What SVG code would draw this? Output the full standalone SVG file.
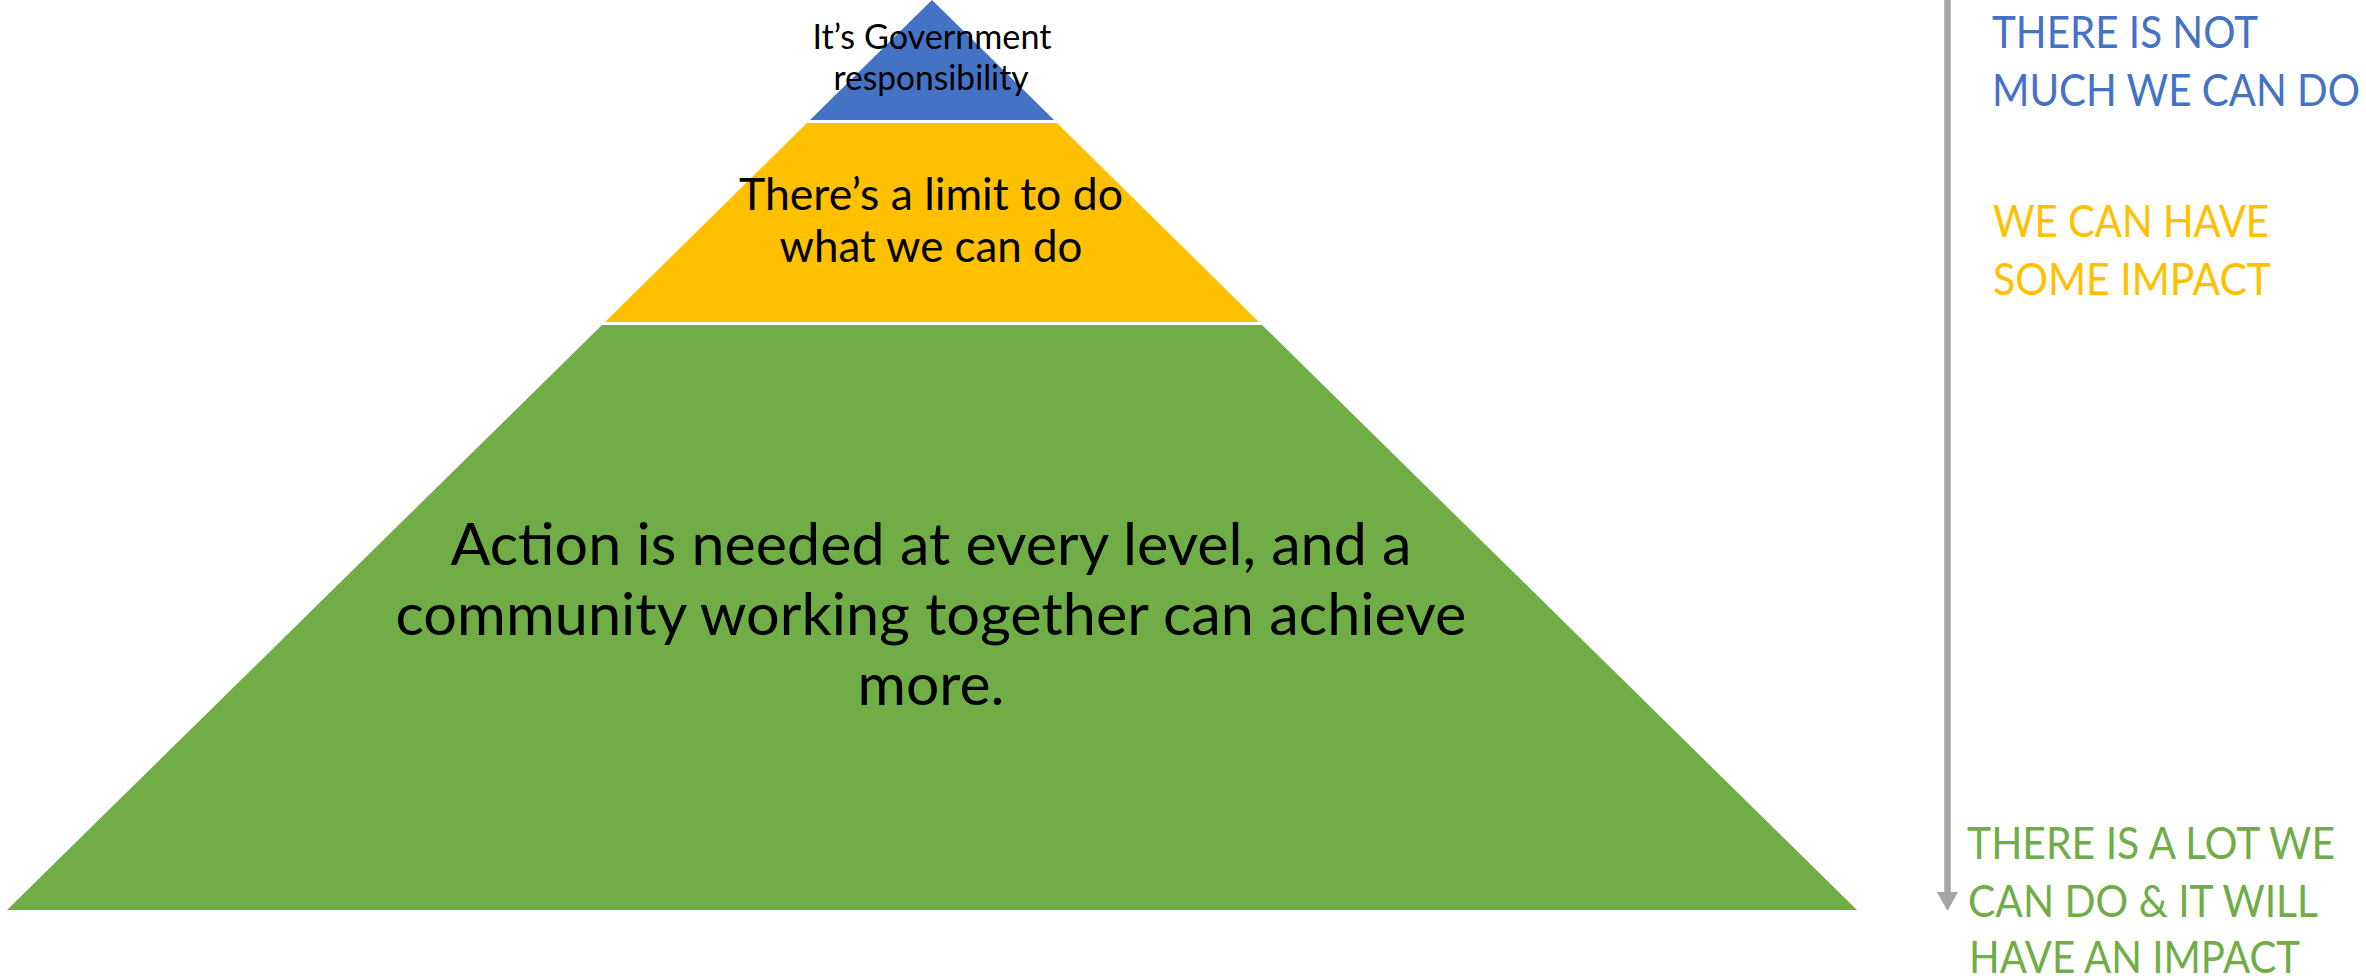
<svg xmlns="http://www.w3.org/2000/svg" width="2366" height="980" viewBox="0 0 2366 980">
<style>
.t{font-family:Lato,"Open Sans","Liberation Sans",sans-serif;text-anchor:middle;fill:#000}
.r{font-family:Lato,"Open Sans","Liberation Sans",sans-serif;font-size:45px}
</style>
<rect width="2366" height="980" fill="#fff"/>
<g id="level-top">
<polygon points="932,0 810,120 1054,120" fill="#4472C4"/>
<text class="t" font-size="34" x="932" y="49" textLength="239" lengthAdjust="spacingAndGlyphs">It’s Government</text>
<text class="t" font-size="34" x="931" y="90" textLength="195" lengthAdjust="spacingAndGlyphs">responsibility</text>
</g>
<g id="level-middle">
<polygon points="807,123 1057,123 1259,322 605,322" fill="#FFC000"/>
<text class="t" font-size="44" x="931" y="210" textLength="384" lengthAdjust="spacingAndGlyphs">There’s a limit to do</text>
<text class="t" font-size="44" x="931" y="262" textLength="303" lengthAdjust="spacingAndGlyphs">what we can do</text>
</g>
<g id="level-bottom">
<polygon points="602,325 1262,325 1857,910 7,910" fill="#70AD47"/>
<text class="t" font-size="59" x="931" y="565" textLength="961" lengthAdjust="spacingAndGlyphs">Action is needed at every level, and a</text>
<text class="t" font-size="59" x="931" y="635" textLength="1071" lengthAdjust="spacingAndGlyphs">community working together can achieve</text>
<text class="t" font-size="59" x="931" y="705" textLength="147" lengthAdjust="spacingAndGlyphs">more.</text>
</g>
<g id="connectors">
<line x1="1947.5" y1="0" x2="1947.5" y2="894" stroke="#A5A5A5" stroke-width="6.5"/>
<polygon points="1937,892 1958,892 1947.5,911" fill="#A5A5A5"/>
</g>
<g id="label-top">
<text class="r" fill="#4472C4" x="1992" y="48" textLength="266" lengthAdjust="spacingAndGlyphs">THERE IS NOT</text>
<text class="r" fill="#4472C4" x="1992" y="106" textLength="368" lengthAdjust="spacingAndGlyphs">MUCH WE CAN DO</text>
</g>
<g id="label-middle">
<text class="r" fill="#FFC000" x="1993" y="237" textLength="276" lengthAdjust="spacingAndGlyphs">WE CAN HAVE</text>
<text class="r" fill="#FFC000" x="1993" y="295" textLength="278" lengthAdjust="spacingAndGlyphs">SOME IMPACT</text>
</g>
<g id="label-bottom">
<text class="r" fill="#70AD47" x="1967" y="859" textLength="368" lengthAdjust="spacingAndGlyphs">THERE IS A LOT WE</text>
<text class="r" fill="#70AD47" x="1968" y="917" textLength="350" lengthAdjust="spacingAndGlyphs">CAN DO &amp; IT WILL</text>
<text class="r" fill="#70AD47" x="1969" y="973" textLength="331" lengthAdjust="spacingAndGlyphs">HAVE AN IMPACT</text>
</g>
</svg>
